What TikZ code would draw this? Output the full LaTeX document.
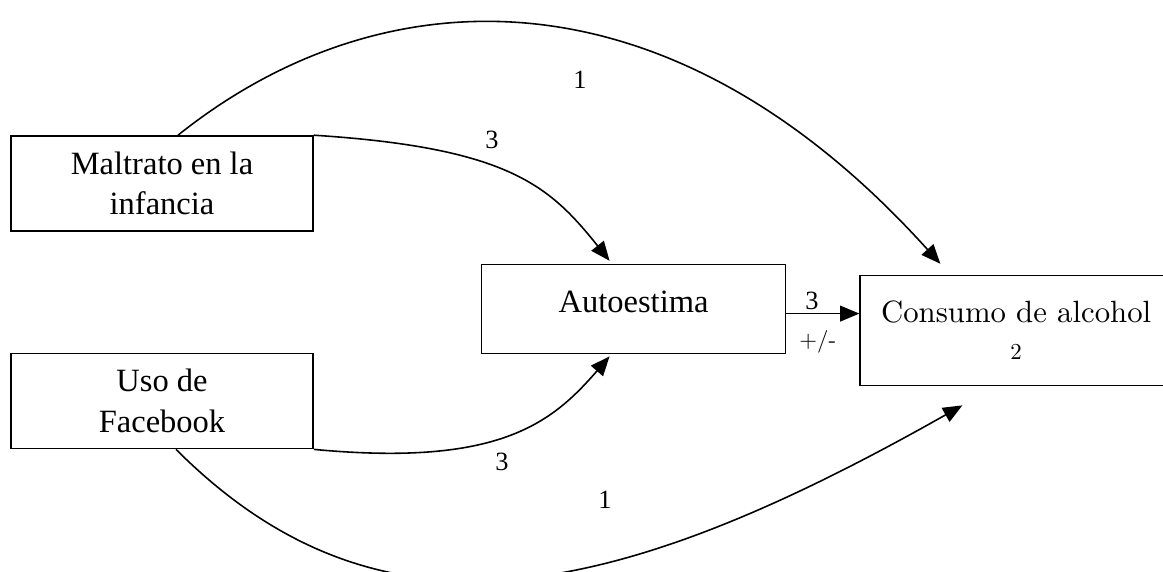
\documentclass[tikz,border=0pt]{standalone}
\usepackage{fontspec}
\usetikzlibrary{positioning,arrows.meta}
\newfontfamily\tnr{Liberation Serif}
\newfontfamily\cmb{lmroman10-regular.otf}

\tikzset{
  var/.style={draw, line width=0.9pt, minimum width=6.04cm, minimum height=1.9cm,
    align=center, inner sep=0pt, font=\tnr\fontsize{18.5}{23}\selectfont},
  link/.style={line width=0.9pt, -{Triangle[length=11pt,width=9pt]}},
  coef/.style={inner sep=0pt, font=\tnr\fontsize{15}{18}\selectfont},
}

\begin{document}
\begin{tikzpicture}
  \useasboundingbox (0,0) rectangle (23.26,11.42);

  % Define the variables
  \node[var] (malt) at (3.24,7.75) {Maltrato en la\\infancia};
  \node[var, below=2.42cm of malt] (face) {Uso de\\Facebook};

  %Mediator and outcome
  \node[var, minimum width=6.08cm, minimum height=1.78cm,
    below right=0.64cm and 3.34cm of malt.south east] (auto) {\raisebox{0.3cm}{Autoestima}};
  \node[var, minimum width=6.24cm, minimum height=2.2cm, font=\cmb\fontsize{17.5}{21}\selectfont,
    below right=0.22cm and 1.46cm of auto.north east] (cons)
    {Consumo de alcohol\\{\fontsize{13}{15}\selectfont 2}};

  % Arrow ends
  \coordinate[above right=0.22cm and 1.62cm of cons.north west] (cons-top);
  \coordinate[below right=0.38cm and 2.06cm of cons.south west] (cons-bot);
  \coordinate[above left=0.06cm and 0.48cm of auto.north] (auto-top);
  \coordinate[below left=0.04cm and 0.48cm of auto.south] (auto-bot);

  % Direct paths
  \draw[link] ([xshift=0.32cm]malt.north) .. controls +(4.0,3.2) and +(-5.5,6.1) .. (cons-top);
  \draw[link] ([xshift=0.28cm]face.south) .. controls +(4.08,-4.08) and +(-7,-3.96) .. (cons-bot);

  % Paths through the mediator
  \draw[link] (malt.north east) .. controls +(3.9,-0.25) and +(-1.2,1.5) .. (auto-top);
  \draw[link] (face.south east) .. controls +(3.7,-0.35) and +(-1.16,-1.34) .. (auto-bot);
  \draw[link] ([yshift=-0.09cm]auto.east) -- ([yshift=-0.09cm]auto.east -| cons.west)
    node[coef, pos=0.35, above=1.5pt] (l3mid) {3}
    node[pos=0.43, below=9pt, inner sep=0pt, font=\cmb\fontsize{13}{15}\selectfont] (sign) {+/-};

  % Path labels
  \node[coef] (l1top) at (11.6,9.82) {1};
  \node[coef] (l3top) at (9.84,8.62) {3};
  \node[coef] (l3bot) at (10.04,2.18) {3};
  \node[coef] (l1bot) at (12.10,1.42) {1};
\end{tikzpicture}
\end{document}
